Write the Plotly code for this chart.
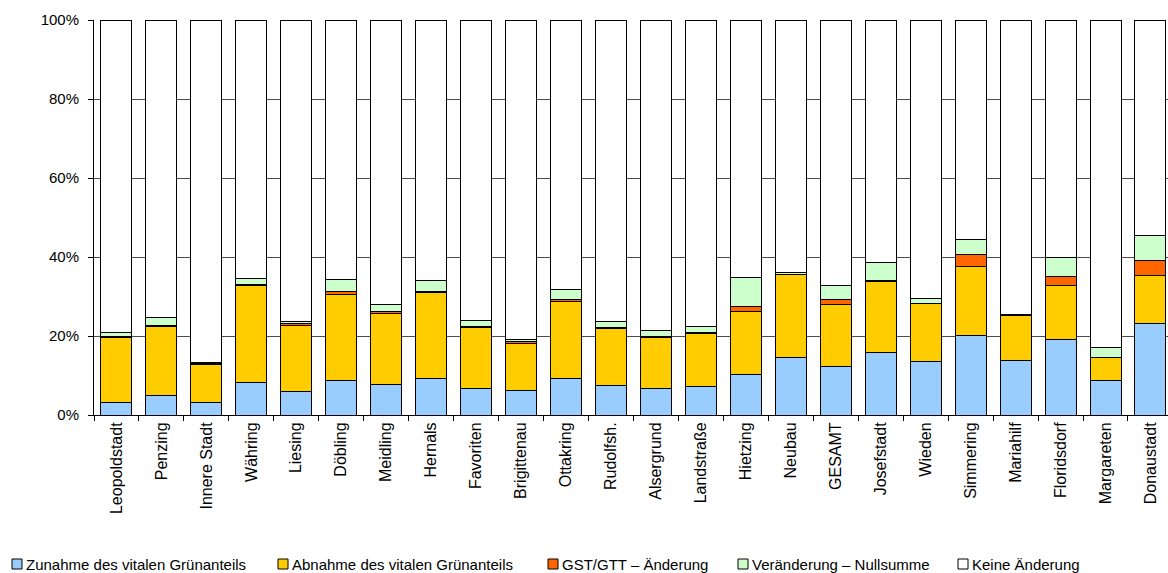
import plotly.graph_objects as go

bezirke = ["Leopoldstadt", "Penzing", "Innere Stadt", "Währing", "Liesing", "Döbling",
           "Meidling", "Hernals", "Favoriten", "Brigittenau", "Ottakring", "Rudolfsh.",
           "Alsergrund", "Landstraße", "Hietzing", "Neubau", "GESAMT", "Josefstadt",
           "Wieden", "Simmering", "Mariahilf", "Floridsdorf", "Margareten", "Donaustadt"]

zunahme = [3.2, 5.0, 3.2, 8.3, 6.0, 8.7, 7.8, 9.3, 6.6, 6.1, 9.3, 7.4,
           6.8, 7.1, 10.2, 14.5, 12.3, 15.9, 13.5, 20.1, 13.8, 19.0, 8.7, 23.2]
abnahme = [16.4, 17.4, 9.7, 24.6, 16.6, 21.9, 17.9, 21.7, 15.6, 12.1, 19.4, 14.4,
           12.9, 13.6, 15.9, 21.0, 15.8, 18.0, 14.7, 17.6, 11.3, 13.9, 5.8, 12.2]
gst_gtt = [0.4, 0.2, 0.2, 0.1, 0.6, 0.7, 0.4, 0.3, 0.2, 0.4, 0.6, 0.4,
           0.1, 0.1, 1.3, 0.1, 1.2, 0.2, 0.1, 2.9, 0.3, 2.2, 0.1, 3.6]
nullsumme = [0.8, 2.2, 0.2, 1.5, 0.5, 3.0, 2.0, 2.8, 1.6, 0.5, 2.6, 1.4,
             1.5, 1.5, 7.4, 0.6, 3.6, 4.4, 1.1, 3.9, 0.1, 4.9, 2.4, 6.5]
keine = [round(100 - a - b - c - d, 1)
         for a, b, c, d in zip(zunahme, abnahme, gst_gtt, nullsumme)]

serien_namen = ["Zunahme des vitalen Grünanteils", "Abnahme des vitalen Grünanteils",
                "GST/GTT – Änderung", "Veränderung – Nullsumme", "Keine Änderung"]
serien_werte = [zunahme, abnahme, gst_gtt, nullsumme, keine]
serien_farben = ["#99CCFF", "#FFCC00", "#FF6600", "#CCFFCC", "#FFFFFF"]

# figure geometry (px)
W, H = 1168, 573
ML, MR, MT, MB = 94, 0, 20, 158
PW, PH = W - ML - MR, H - MT - MB

fig = go.Figure()
for name, werte, farbe in zip(serien_namen, serien_werte, serien_farben):
    fig.add_trace(go.Bar(
        x=bezirke, y=werte, name=name, width=0.69, showlegend=False,
        marker=dict(color=farbe, line=dict(color="#000000", width=1)),
    ))

font_family = "Arial, Liberation Sans, sans-serif"

# legend row below the chart: small outlined squares followed by the series names
legende_px = [12, 278, 548, 738, 958]
legende_y = 564


def px_x(p):
    return (p - ML) / PW


def px_y(p):
    return (H - MB - p) / PH


for name, farbe, lx in zip(serien_namen, serien_farben, legende_px):
    fig.add_shape(
        type="rect", xref="paper", yref="paper",
        x0=px_x(lx), x1=px_x(lx + 10), y0=px_y(legende_y + 5), y1=px_y(legende_y - 5),
        fillcolor=farbe, line=dict(color="#000000", width=1),
    )
    fig.add_annotation(
        xref="paper", yref="paper", x=px_x(lx + 12), y=px_y(legende_y),
        xanchor="left", yanchor="middle", showarrow=False, text=name,
        font=dict(family=font_family, size=15, color="#000000"),
    )

fig.update_layout(
    barmode="stack",
    width=W, height=H,
    margin=dict(l=ML, r=MR, t=MT, b=MB),
    plot_bgcolor="white", paper_bgcolor="white",
    font=dict(family=font_family, size=15, color="#000000"),
    showlegend=False,
    xaxis=dict(
        type="category", range=[-0.5, 23.39], tickangle=-90, automargin=False,
        showline=True, linecolor="#000000", linewidth=1,
        ticks="outside", ticklen=5, tickcolor="#000000", tickson="boundaries",
        showgrid=False, tickfont=dict(size=16),
    ),
    yaxis=dict(
        range=[0, 100], tickvals=[0, 20, 40, 60, 80, 100], automargin=False,
        ticktext=["0%", "20%", "40%", "60%", "80%", "100%"],
        showline=True, linecolor="#000000", linewidth=1,
        ticks="outside", ticklen=5, tickcolor="#000000", ticklabelstandoff=6,
        showgrid=True, gridcolor="#4d4d4d", gridwidth=1,
        zeroline=False, tickfont=dict(size=15),
    ),
)

fig.write_html("out.html")
